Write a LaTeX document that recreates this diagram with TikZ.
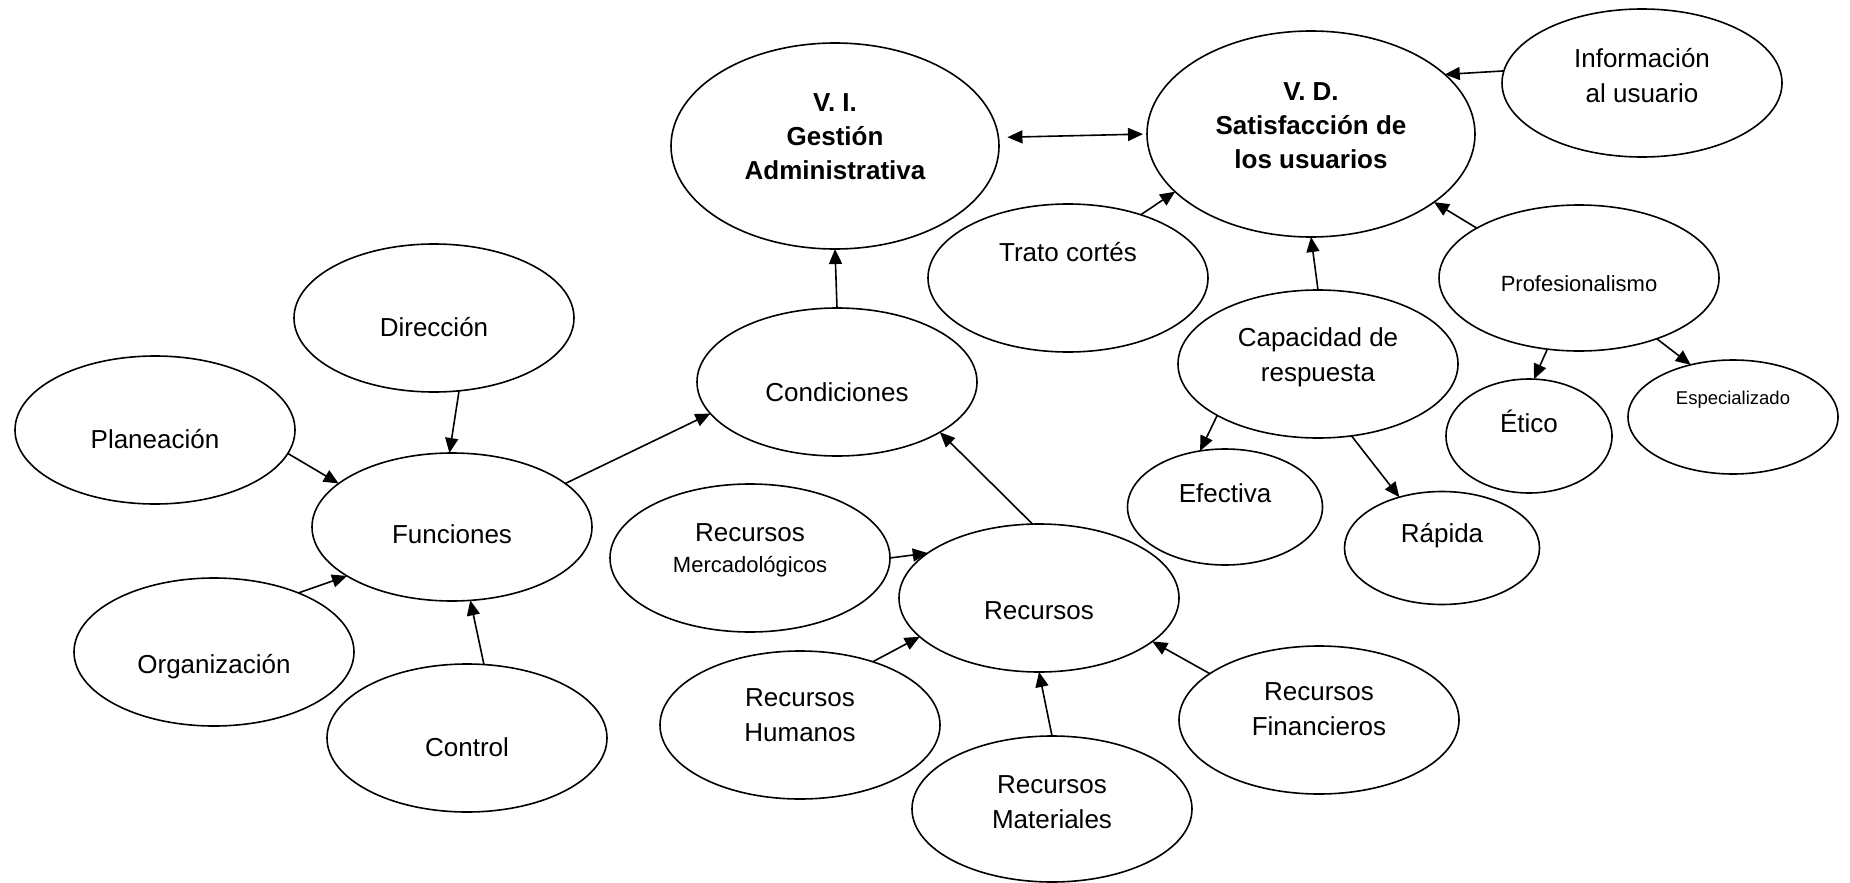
\documentclass[tikz,border=0pt]{standalone}
\usepackage{fontspec}
\setmainfont{Liberation Sans}
\usetikzlibrary{arrows.meta,shapes.geometric}

\begin{document}
\begin{tikzpicture}[x=1pt,y=-1pt,
    burbuja/.style={draw,ellipse,line width=1.6pt,inner sep=0pt,outer sep=0pt,
      align=center,font=\fontsize{26}{35}\selectfont},
    grande/.style={burbuja,minimum width=328pt,minimum height=206pt,
      font=\fontsize{26}{34}\selectfont\bfseries},
    media/.style={burbuja,minimum width=280pt,minimum height=148pt},
    lift/.style={text height=20pt,text depth=#1},
    baja/.style={text height=#1,text depth=0pt},
    flecha/.style={line width=1.6pt,-{Triangle[length=15pt,width=13pt]}},
    doble/.style={line width=1.6pt,{Triangle[length=15pt,width=13pt]}-{Triangle[length=15pt,width=13pt]}}]
  \useasboundingbox (0,0) rectangle (1850,883);
  \fill[white] (0,0) rectangle (1850,883);

  % variables
  \node[grande] (vi) at (835,146) {V. I.\\Gestión\\Administrativa\\[-16pt]\mbox{}};
  \node[grande] (vd) at (1311,134) {V. D.\\Satisfacción de\\los usuarios\\[-18pt]\mbox{}};

  % gestion administrativa
  \node[media,baja=38pt] (cond) at (837,382) {Condiciones};
  \node[media,baja=36pt] (dir) at (434,318) {Dirección};
  \node[media,baja=36pt] (plan) at (155,430) {Planeación};
  \node[media,baja=33pt] (func) at (452,527) {Funciones};
  \node[media,baja=42pt] (org) at (214,652) {Organización};
  \node[media,baja=36pt] (ctrl) at (467,738) {Control};
  \node[media] (merc) at (750,558) {Recursos\\[-4pt]{\fontsize{22}{26}\selectfont Mercadológicos}\\[-16pt]\mbox{}};
  \node[media,baja=42pt] (rec) at (1039,598) {Recursos};
  \node[media] (hum) at (800,725) {Recursos\\Humanos\\[-16pt]\mbox{}};
  \node[media] (fin) at (1319,720) {Recursos\\Financieros\\[-14pt]\mbox{}};
  \node[media,minimum height=146pt] (mat) at (1052,809) {Recursos\\Materiales\\[-21pt]\mbox{}};

  % satisfaccion de los usuarios
  \node[media] (info) at (1642,83) {Información\\al usuario\\[-19pt]\mbox{}};
  \node[media,lift=53pt] (trato) at (1068,278) {Trato cortés};
  \node[media,minimum height=146pt,baja=26pt,font=\fontsize{22}{26}\selectfont] (prof) at (1579,278) {Profesionalismo};
  \node[media] (cap) at (1318,364) {Capacidad de\\respuesta\\[-17pt]\mbox{}};
  \node[burbuja,minimum width=195pt,minimum height=116pt,lift=29pt] (efe) at (1225,507) {Efectiva};
  \node[burbuja,minimum width=195pt,minimum height=113pt,lift=31pt] (rap) at (1442,548) {Rápida};
  \node[burbuja,minimum width=166pt,minimum height=114pt,lift=27pt] (etico) at (1529,436) {Ético};
  \node[burbuja,minimum width=210pt,minimum height=114pt,lift=45pt,
    font=\fontsize{18.5}{22}\selectfont] (esp) at (1733,417) {Especializado};

  % flechas
  \draw[doble,shorten <=9pt,shorten >=4pt] (vi.3) -- (vd.180);
  \draw[flecha] (info.175) -- (vd.24);
  \draw[flecha] (trato.41) -- (vd.203);
  \draw[flecha] (cap.north) -- (vd.south);
  \draw[flecha] (prof.154) -- (vd.331);
  \draw[flecha] (cond.north) -- (vi.south);
  \draw[flecha] (dir.289) -- (func.92);
  \draw[flecha] (plan.-10) -- (func.159);
  \draw[flecha] (func.21) -- (cond.194);
  \draw[flecha] (org.35) -- (func.205);
  \draw[flecha] (ctrl.77) -- (func.284);
  \draw[flecha] (rec.95) -- (cond.334);
  \draw[flecha] (merc.0) -- (rec.158);
  \draw[flecha] (hum.41) -- (rec.198);
  \draw[flecha] (mat.north) -- (rec.south);
  \draw[flecha] (fin.157) -- (rec.339);
  \draw[flecha] (cap.207) -- (efe.114);
  \draw[flecha] (cap.295) -- (rap.130);
  \draw[flecha] (prof.246) -- (etico.85);
  \draw[flecha] (prof.322) -- (esp.129);
\end{tikzpicture}
\end{document}
